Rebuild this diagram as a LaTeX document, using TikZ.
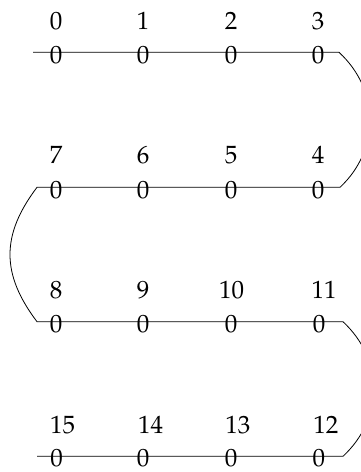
\documentclass[tikz,border=0pt]{standalone}
\usepackage{fontspec}
\setmainfont{texgyrepagella-regular.otf}
\begin{document}
\begin{tikzpicture}[x=1pt,y=-1pt,
  lbl/.style={anchor=base,inner sep=0pt,font=\fontsize{25}{30}\selectfont},
  wire/.style={draw=black,line width=0.8pt}]
\useasboundingbox (0,0) rectangle (361,472);
% row 1
\node[lbl] (i0) at (56,29.3) {0};
\node[lbl] (i1) at (143,29.3) {1};
\node[lbl] (i2) at (231,29.3) {2};
\node[lbl] (i3) at (318,29.3) {3};
\node[lbl] (z0) at (56,63.5) {0};
\node[lbl] (z1) at (143,63.5) {0};
\node[lbl] (z2) at (231,63.5) {0};
\node[lbl] (z3) at (318,63.5) {0};
% row 2
\node[lbl] (i7) at (56,163.5) {7};
\node[lbl] (i6) at (143,163.5) {6};
\node[lbl] (i5) at (231,163.5) {5};
\node[lbl] (i4) at (318,163.5) {4};
\node[lbl] (z7) at (56,198.3) {0};
\node[lbl] (z6) at (143,198.3) {0};
\node[lbl] (z5) at (231,198.3) {0};
\node[lbl] (z4) at (318,198.3) {0};
% row 3
\node[lbl] (i8) at (56,298.3) {8};
\node[lbl] (i9) at (143,298.3) {9};
\node[lbl] (i10) at (231.7,298.3) {10};
\node[lbl] (i11) at (324,298.3) {11};
\node[lbl] (z8) at (56,332.7) {0};
\node[lbl] (z9) at (143,332.7) {0};
\node[lbl] (z10) at (231,332.7) {0};
\node[lbl] (z11) at (319,332.7) {0};
% row 4
\node[lbl] (i15) at (62.7,433.3) {15};
\node[lbl] (i14) at (150.7,433.3) {14};
\node[lbl] (i13) at (237.8,433.3) {13};
\node[lbl] (i12) at (325.8,433.3) {12};
\node[lbl] (z15) at (56.7,466.5) {0};
\node[lbl] (z14) at (143,466.5) {0};
\node[lbl] (z13) at (231,466.5) {0};
\node[lbl] (z12) at (318.8,466.5) {0};
% wire end points
\coordinate (a1) at (33,52.3);
\coordinate (b1) at (339,52.3);
\coordinate (a2) at (340,187.3);
\coordinate (b2) at (37,187.3);
\coordinate (a3) at (37,321.7);
\coordinate (b3) at (343,321.7);
\coordinate (a4) at (343,456.3);
\coordinate (b4) at (37,456.3);
\draw[wire] (a1) -- (b1) .. controls (380,90) and (380,150) .. (a2)
  -- (b2) .. controls (1,235) and (1,274) .. (a3)
  -- (b3) .. controls (384,360) and (384,418) .. (a4) -- (b4);
\end{tikzpicture}
\end{document}
